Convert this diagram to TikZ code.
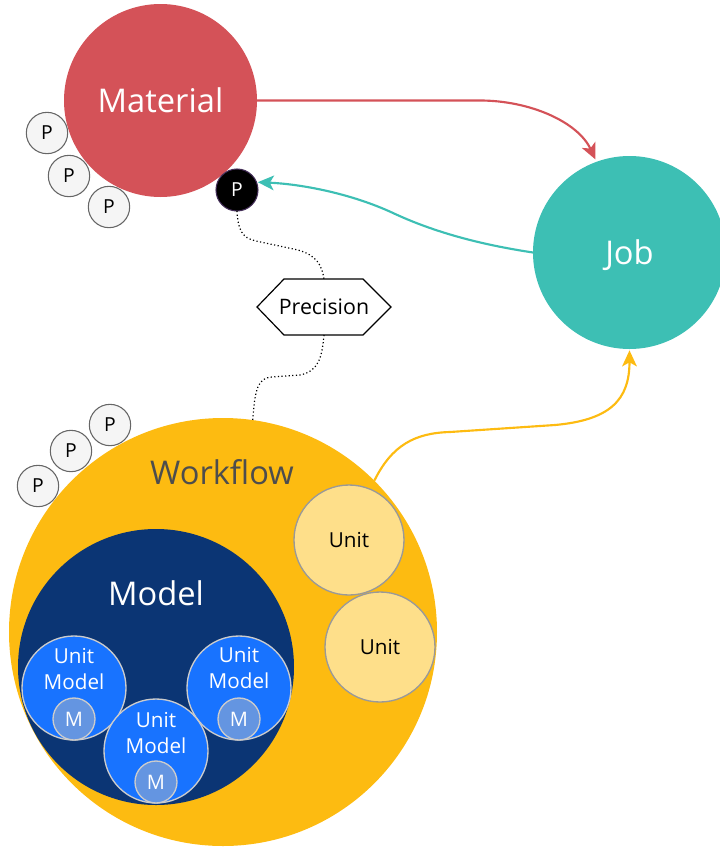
\documentclass[tikz,border=0pt]{standalone}
\usepackage{fontspec}
\setmainfont{Open Sans}
\usetikzlibrary{arrows.meta,calc}
\definecolor{matred}{RGB}{212,82,88}
\definecolor{jobteal}{RGB}{61,191,180}
\definecolor{wfyellow}{RGB}{253,187,17}
\definecolor{modelnavy}{RGB}{11,53,116}
\definecolor{umblue}{RGB}{24,115,255}
\definecolor{mblue}{RGB}{100,149,225}
\definecolor{unityellow}{RGB}{254,223,138}
\definecolor{pgray}{RGB}{245,245,245}
\definecolor{pstroke}{RGB}{102,102,102}
\definecolor{wftext}{RGB}{77,77,77}
\definecolor{pcstroke}{RGB}{67,45,87}
\begin{document}
\begin{tikzpicture}[x=0.75pt,y=-0.75pt,
  disc/.style={circle,inner sep=0pt,outer sep=0pt},
  bigfont/.style={font=\fontsize{24.5}{29}\selectfont},
  midfont/.style={font=\fontsize{15.5}{18.8}\selectfont},
  pcirc/.style={disc,draw=pstroke,line width=0.8pt,fill=pgray,minimum size=31pt,
    text=black,font=\fontsize{14.5}{17}\selectfont},
  umcirc/.style={disc,draw=black!20,line width=1pt,fill=umblue,minimum size=78pt},
  mcirc/.style={disc,draw=black!20,line width=1pt,fill=mblue,minimum size=31.5pt,
    text=white,font=\fontsize{15}{18}\selectfont},
  umtext/.style={midfont,text=white,align=center,inner sep=0pt},
  unitcirc/.style={disc,draw=black!40,line width=1pt,fill=unityellow,minimum size=82.5pt,
    midfont,text=black},
  arr/.style={line width=1.6pt,-{Stealth[length=12pt,width=11pt,inset=3pt]}},
  dotline/.style={line width=0.9pt,dash pattern=on 0.9pt off 1.8pt},
]
\useasboundingbox (0,0) rectangle (719,847);

% Workflow
\node[disc,fill=wfyellow,minimum size=321pt] (wf) at (223,632) {};
\node[bigfont,text=wftext,inner sep=0pt] (wft) at (222,472) {Workflow};
% Model
\node[disc,fill=modelnavy,minimum size=207pt] (model) at (156,667) {};
\node[bigfont,text=white,inner sep=0pt] (modelt) at (156,593) {Model};
% Unit models
\node[umcirc] (um1) at (74,688) {};
\node[umcirc] (um3) at (239,688) {};
\node[umcirc] (um2) at (156,751) {};
\node[umtext] (um1t) at (74,669) {Unit\\Model};
\node[umtext] (um3t) at (239,668) {Unit\\Model};
\node[umtext] (um2t) at (156,733) {Unit\\Model};
\node[mcirc] (m1) at (74,719) {M};
\node[mcirc] (m3) at (239,719) {M};
\node[mcirc] (m2) at (156,782) {M};
% Units
\node[unitcirc] (u1) at (349,540) {Unit};
\node[unitcirc] (u2) at (380,647) {Unit};
% Workflow parameters
\node[pcirc] (wp1) at (110,425) {P};
\node[pcirc] (wp2) at (71,451) {P};
\node[pcirc] (wp3) at (38,486) {P};

% Material
\node[disc,fill=matred,minimum size=144.75pt,bigfont,text=white] (mat) at (160.5,100.5) {Material};
\node[pcirc] (mp1) at (47,133) {P};
\node[pcirc] (mp2) at (69,176) {P};
\node[pcirc] (mp3) at (109,207) {P};
\node[disc,fill=black,draw=pcstroke,line width=0.8pt,minimum size=31.5pt,text=white,
  font=\fontsize{14.5}{17}\selectfont] (pc) at (237,190) {P};

% Job
\node[disc,fill=jobteal,minimum size=144.75pt,bigfont,text=white,text depth=0pt] (job) at (629.5,252.5) {Job};

% Precision
\node[inner sep=0pt,outer sep=0pt,minimum width=100.5pt,minimum height=42pt,
  font=\fontsize{16}{19}\selectfont] (hex) at (324,307) {Precision};
\draw[line width=0.9pt,line join=miter] (hex.west) -- ($(hex.north west)+(27,0)$) -- ($(hex.north east)+(-28,0)$)
  -- (hex.east) -- ($(hex.south east)+(-28,0)$) -- ($(hex.south west)+(27,0)$) -- cycle;

% connectors
\draw[dotline] (pc.south) .. controls (238,230) and (242,238) .. (256,241) -- (298,250)
  .. controls (316,255) and (322,265) .. (hex.north);
\draw[dotline] (hex.south) .. controls (322,355) and (320,371) .. (300,375) -- (272,377)
  .. controls (258,378) and (255,388) .. (wf.82);

\draw[arr,matred,shorten >=2pt] (mat.east) -- (480,100.5) .. controls (530,100.5) and (578,122) .. (job.110);
\draw[arr,jobteal,shorten >=1pt] (job.west) .. controls (490,246) and (440,235) .. (393,213)
  .. controls (350,193) and (300,184) .. (pc.22);
\draw[arr,wfyellow,shorten >=1pt] (wf.45) .. controls (392,445) and (415,433) .. (450,432) -- (555,425)
  .. controls (610,420) and (629.5,400) .. (job.south);
\end{tikzpicture}
\end{document}
